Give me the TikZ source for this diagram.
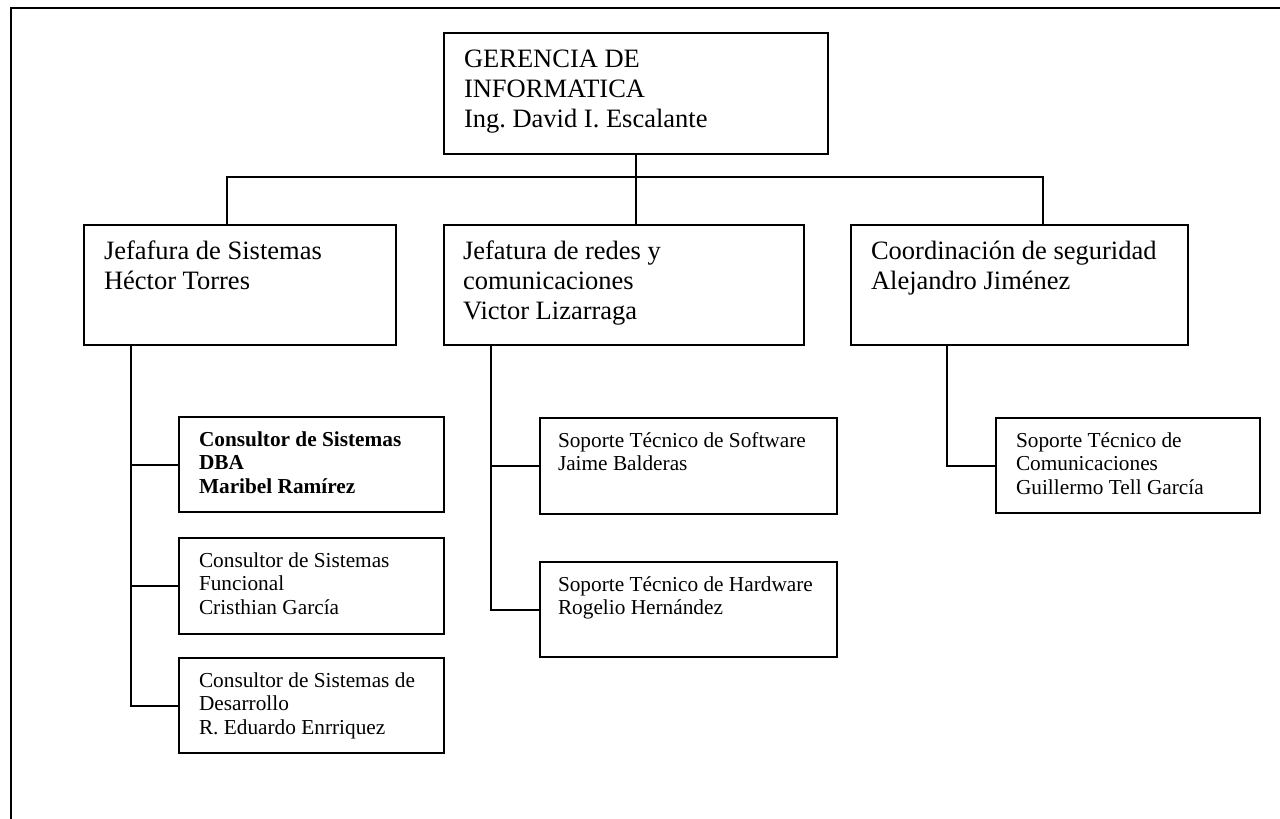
\documentclass[tikz,border=0pt]{standalone}
\usepackage{fontspec}
\setmainfont{Liberation Serif}
\frenchspacing
\newcommand{\bigf}{\fontsize{26.5pt}{30pt}\selectfont}
\newcommand{\smallf}{\fontsize{21.3pt}{23.5pt}\selectfont}
% width, height, left pad, first baseline, font, text
\newcommand{\obox}[6]{\parbox[b][#2][t]{#1}{\leftskip=#3\relax\rightskip=0pt plus 1fil\relax\parindent=0pt\parskip=0pt #5\rule{0pt}{#4}#6\par}}
\tikzset{
  orgnode/.style={draw, line width=2pt, inner sep=0pt, anchor=north west},
  link/.style={line width=2pt}
}
\begin{document}
\begin{tikzpicture}[x=1pt,y=-1pt]
\useasboundingbox (0,0) rectangle (1280,819);
% outer frame
\draw[line width=2.2pt] (1281,8) -- (11,8) -- (11,820);
% nodes
\node[orgnode] (g) at (443,32) {\obox{384pt}{121pt}{20pt}{34pt}{\bigf}{GERENCIA DE\\INFORMATICA\\Ing. David I. Escalante}};
\node[orgnode] (a) at (83,224) {\obox{312pt}{120pt}{20pt}{34pt}{\bigf}{Jefafura de Sistemas\\Héctor Torres}};
\node[orgnode] (b) at (443,224) {\obox{360pt}{120pt}{19pt}{34pt}{\bigf}{Jefatura de redes y\\comunicaciones\\Victor Lizarraga}};
\node[orgnode] (c) at (850,224) {\obox{337pt}{120pt}{20pt}{34pt}{\bigf}{Coordinación de seguridad\\Alejandro Jiménez}};
\node[orgnode] (d1) at (178,416) {\obox{265pt}{95pt}{20pt}{29pt}{\smallf\bfseries}{Consultor de Sistemas\\DBA\\Maribel Ramírez}};
\node[orgnode] (d2) at (178,537) {\obox{265pt}{96pt}{20pt}{29pt}{\smallf}{Consultor de Sistemas\\Funcional\\Cristhian García}};
\node[orgnode] (d3) at (178,657) {\obox{265pt}{95pt}{20pt}{29pt}{\smallf}{Consultor de Sistemas de\\Desarrollo\\R. Eduardo Enrriquez}};
\node[orgnode] (e1) at (539,417) {\obox{297pt}{96pt}{18pt}{29pt}{\smallf}{Soporte Técnico de Software\\Jaime Balderas}};
\node[orgnode] (e2) at (539,561) {\obox{297pt}{95pt}{18pt}{29pt}{\smallf}{Soporte Técnico de Hardware\\Rogelio Hernández}};
\node[orgnode] (f) at (995,417) {\obox{264pt}{95pt}{20pt}{29pt}{\smallf}{Soporte Técnico de\\Comunicaciones\\Guillermo Tell García}};
% connectors level 1
\coordinate (busL) at (227,177);
\coordinate (busR) at (1043,177);
\draw[link] (g.south) -- (g.south |- b.north);
\draw[link] (busL |- a.north) -- (busL) -- (busR) -- (busR |- c.north);
% left column
\coordinate (ta) at ([xshift=48pt]a.south west);
\draw[link] (ta) |- (d3.west);
\draw[link] (d1.west) -- (d1.west -| ta);
\draw[link] (d2.west) -- (d2.west -| ta);
% middle column
\coordinate (tb) at ([xshift=48pt]b.south west);
\draw[link] (tb) |- (e2.west);
\draw[link] (e1.west) -- (e1.west -| tb);
% right column
\coordinate (tc) at ([xshift=97pt]c.south west);
\draw[link] (tc) |- (f.west);
\end{tikzpicture}
\end{document}
